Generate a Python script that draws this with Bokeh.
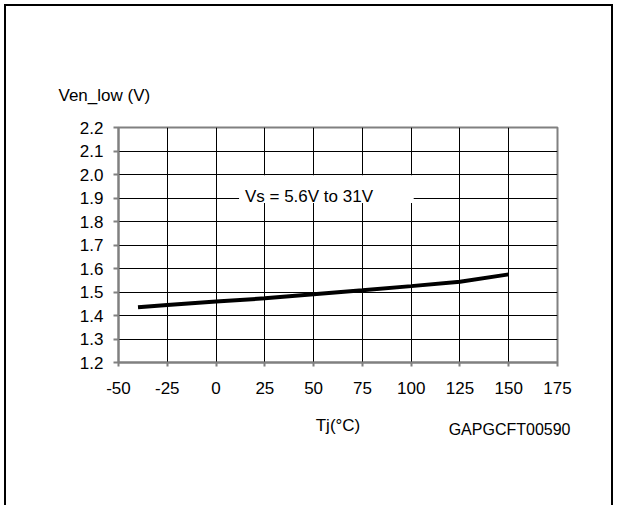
from bokeh.plotting import figure
from bokeh.models import FixedTicker, Label, BoxAnnotation, Title
from bokeh.embed import file_html
from bokeh.resources import INLINE

# Data
tj = [-40, -25, 0, 25, 50, 75, 100, 125, 150]
ven_low = [1.435, 1.445, 1.460, 1.473, 1.490, 1.507, 1.525, 1.544, 1.575]

x_ticks = [-50, -25, 0, 25, 50, 75, 100, 125, 150, 175]
x_tick_labels = ["-50", "-25", "0", "25", "50", "75", "100", "125", "150", "175"]
y_ticks = [1.2, 1.3, 1.4, 1.5, 1.6, 1.7, 1.8, 1.9, 2.0, 2.1, 2.2]
y_tick_labels = ["1.2", "1.3", "1.4", "1.5", "1.6", "1.7", "1.8", "1.9", "2.0", "2.1", "2.2"]

FONT = "Liberation Sans"
GREY = "#808080"

p = figure(width=609, height=501, x_range=(-50, 175), y_range=(1.2, 2.2),
           output_backend="svg", toolbar_location=None,
           min_border_left=112, min_border_right=58,
           min_border_top=121, min_border_bottom=145)

p.styles = {"margin-left": "4px", "margin-top": "4px",
            "border-left": "2px solid black", "border-top": "2px solid black",
            "border-right": "2px solid black"}

p.background_fill_color = "white"
p.border_fill_color = "white"
p.outline_line_color = GREY
p.outline_line_width = 2

# Axes
p.xaxis.ticker = FixedTicker(ticks=x_ticks)
p.yaxis.ticker = FixedTicker(ticks=y_ticks)
p.xaxis.major_label_overrides = {t: l for t, l in zip(x_ticks, x_tick_labels)}
p.yaxis.major_label_overrides = {t: l for t, l in zip(y_ticks, y_tick_labels)}
for ax in (p.xaxis, p.yaxis):
    ax.axis_line_color = GREY
    ax.axis_line_width = 2
    ax.major_tick_line_color = GREY
    ax.major_tick_line_width = 2
    ax.major_tick_in = 0
    ax.minor_tick_line_color = None
    ax.major_label_text_font = FONT
    ax.major_label_text_font_size = "17px"
    ax.major_label_text_color = "black"
p.xaxis.major_tick_out = 4
p.yaxis.major_tick_out = 5
p.yaxis.major_label_standoff = 10
p.xaxis.major_label_standoff = 15

p.xaxis.axis_label = "Tj(°C)"
p.xaxis.axis_label_text_font = FONT
p.xaxis.axis_label_text_font_size = "17px"
p.xaxis.axis_label_text_font_style = "normal"
p.xaxis.axis_label_text_color = "black"
p.xaxis.axis_label_standoff = 19

# Grid
p.xgrid.ticker = FixedTicker(ticks=x_ticks)
p.ygrid.ticker = FixedTicker(ticks=y_ticks)
for g in (p.xgrid, p.ygrid):
    g.grid_line_color = "black"
    g.grid_line_width = 1

# Curve
p.line(tj, ven_low, line_width=4, line_color="black")

# Annotation box and text
box = BoxAnnotation(left=11.8, right=101.3, bottom=1.879, top=1.997,
                    fill_color="white", fill_alpha=1.0, line_alpha=0)
p.add_layout(box)
p.add_layout(Label(x=14.8, y=1.9075, text="Vs = 5.6V to 31V",
                   text_font=FONT, text_font_size="17px",
                   text_baseline="alphabetic", text_color="black"))

# Y title (top-left) and figure code (bottom-right)
p.add_layout(Title(text="Ven_low (V)", align="left", offset=-60, standoff=46,
                   text_font=FONT, text_font_size="17px",
                   text_font_style="normal", text_color="black"), "above")
p.add_layout(Title(text="GAPGCFT00590", align="right", offset=-13, standoff=-34,
                   vertical_align="top",
                   text_font=FONT, text_font_size="16px",
                   text_font_style="normal", text_color="black"), "below")

open("out.html", "w").write(file_html(p, INLINE))
